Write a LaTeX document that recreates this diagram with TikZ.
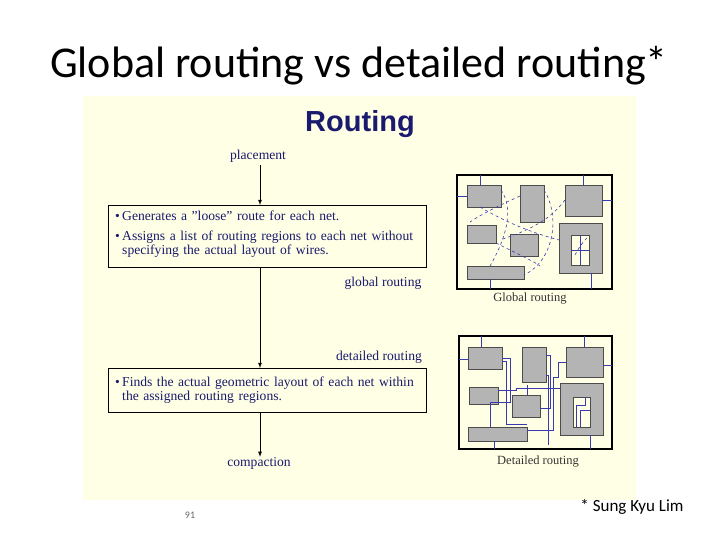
\documentclass[tikz,border=0pt]{standalone}
\usepackage{fontspec}
\setmainfont{Liberation Serif}
\newfontfamily\calfam{Carlito}
\newfontfamily\arsfam{Liberation Sans}
\definecolor{panel}{HTML}{FFFFE6}
\definecolor{navy}{HTML}{1A1A6E}
\definecolor{blk}{HTML}{B4B4B4}
\definecolor{wire}{HTML}{3A3AB0}
\begin{document}
\begin{tikzpicture}[x=1pt,y=-1pt,
  txt/.style={inner sep=0pt,font=\fontsize{13.6}{14}\selectfont,text=navy},
  stepbox/.style={draw=black,line width=0.6pt,fill=panel},
  flow/.style={draw=black,line width=0.8pt,-latex},
  blkst/.style={fill=blk,draw=black!70,line width=0.5pt},
  wr/.style={draw=wire,line width=0.6pt},
  dw/.style={draw=wire,line width=0.6pt,dashed}]
\useasboundingbox (0,0) rectangle (720,540);
\fill[white] (0,0) rectangle (720,540);
\node[font=\calfam\fontsize{44}{48}\selectfont] (title) at (359,66) {Global routing vs detailed routing*};
\fill[panel] (83,96) rectangle (636,500);
\node[font=\arsfam\bfseries\fontsize{29}{32}\selectfont,text=navy] (rt) at (360,124) {Routing};
\node[txt] (pl) at (258,156) {placement};
\node[stepbox,minimum width=318pt,minimum height=62pt,anchor=north west,inner sep=0pt] (b1) at (108,205) {};
\node[txt,anchor=north west,align=left,text width=315pt] (t1) at (115,211) {\textbullet\,Generates a "loose" route for each net.\\[6pt]\textbullet\,Assigns a list of routing regions to each net without\\\phantom{\textbullet\,}specifying the actual layout of wires.};
\node[txt] (gr) at (383,283) {global routing};
\node[txt] (dr) at (379,357) {detailed routing};
\node[stepbox,minimum width=318pt,minimum height=44pt,anchor=north west,inner sep=0pt] (b2) at (108,368) {};
\node[txt,anchor=north west,align=left,text width=315pt] (t2) at (115,377) {\textbullet\,Finds the actual geometric layout of each net within\\\phantom{\textbullet\,}the assigned routing regions.};
\node[txt] (cp) at (259,463) {compaction};
\draw[flow] (260,165) coordinate (p0) -- (p0 |- b1.north);
\draw[flow] (260,267) coordinate (q0) -- (q0 |- b2.north);
\draw[flow] (260,412) coordinate (r0) -- (r0 |- cp.north);
% global routing panel
\draw[line width=1.5pt,fill=panel] (457,175) rectangle (612,289);
\foreach \a/\b/\c/\d in {467/185/501/207,520/185/544/222,565/185/602/216,467/225/496/243,510/234/538/256,467/266/524/279}
  \filldraw[blkst] (\a,\b) rectangle (\c,\d);
\filldraw[blkst] (559,223) rectangle (602,273);
\fill[panel] (571,235) rectangle (589,265);
\draw[black!70] (571,235) rectangle (589,265);
\draw[wr] (480,175)--(480,185) (457,196)--(467,196) (583,175)--(583,185) (602,200)--(612,200) (490,279)--(490,289) (591,273)--(591,289);
\draw[dw] (501,190) .. controls (515,210) and (505,240) .. (490,266);
\draw[dw] (480,207) .. controls (510,225) and (540,235) .. (559,240);
\draw[dw] (520,196) .. controls (500,205) and (480,215) .. (470,222);
\draw[dw] (544,190) .. controls (560,215) and (555,260) .. (524,275);
\draw[dw] (565,200) .. controls (550,220) and (530,230) .. (500,240);
\draw[dw] (496,243) .. controls (520,255) and (535,262) .. (540,266);
\draw[dw] (575,255) .. controls (580,245) and (585,240) .. (587,238);
\draw[wire,line width=0.4pt] (571,250)--(589,250) (580,235)--(580,265);
\node[txt,text=black!80,font=\fontsize{12.5}{13}\selectfont] (gl) at (530,299) {Global routing};
% detailed routing panel
\draw[line width=1.5pt,fill=panel] (459,336) rectangle (612,449);
\foreach \a/\b/\c/\d in {468/347/502/369,522/347/546/382,566/347/603/377,469/387/498/404,512/395/540/417,468/427/527/441}
  \filldraw[blkst] (\a,\b) rectangle (\c,\d);
\filldraw[blkst] (560,383) rectangle (603,435);
\fill[panel] (573,397) rectangle (590,427);
\draw[black!70] (573,397) rectangle (590,427);
\draw[wr] (481,336)--(481,347) (459,359)--(468,359) (584,336)--(584,347) (603,365)--(612,365) (494,441)--(494,449) (590,435)--(590,449);
\draw[wr] (502,358)--(510,358)--(510,402)--(490,402)--(490,427);
\draw[wr] (502,361)--(506,361)--(506,424)--(527,424);
\draw[wr] (546,355)--(550,355)--(550,408)--(540,408);
\draw[wr] (566,362)--(558,362)--(558,377)--(553,377)--(553,430)--(527,430);
\draw[wr] (498,390)--(516,390)--(516,388)--(560,388);
\draw[wr] (546,375)--(548,375)--(548,445);
\draw[wr] (576,427)--(576,405)--(585,405)--(585,397);
\draw[wr] (580,427)--(580,410)--(590,410);
\draw[wr] (527,395)--(527,385);
\node[txt,text=black!80,font=\fontsize{12.5}{13}\selectfont] (dl) at (538,462) {Detailed routing};
\node[font=\calfam\fontsize{10}{11}\selectfont,text=black!60] (pg) at (190,515) {91};
\node[font=\calfam\fontsize{17}{19}\selectfont] (au) at (632,507) {* Sung Kyu Lim};
\end{tikzpicture}
\end{document}
